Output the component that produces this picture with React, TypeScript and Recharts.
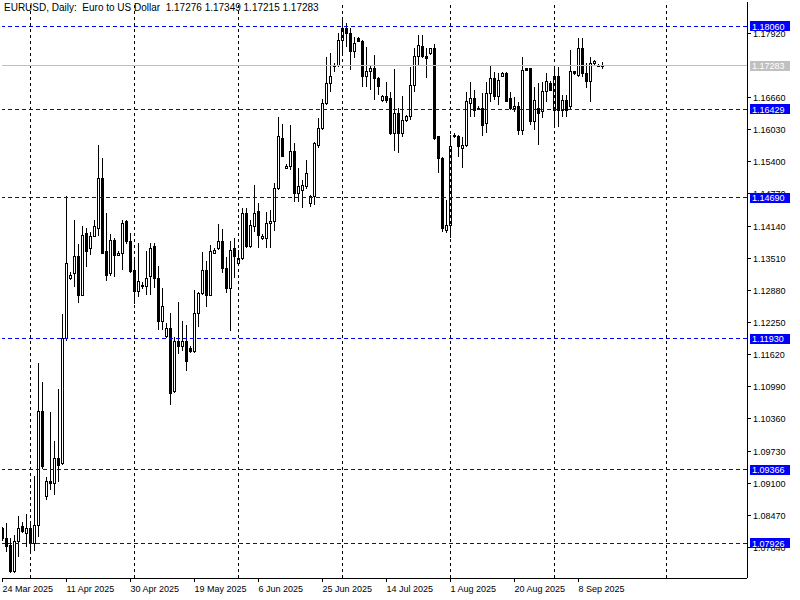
import React from "react";
import { ComposedChart, Bar, XAxis, YAxis, ReferenceLine } from "recharts";

// EURUSD daily bars, 24 Mar 2025 .. 15 Sep 2025 (broker has Sunday bars)
const opens = [
  1.08202, 1.08025, 1.07888, 1.07359, 1.07966, 1.08241, 1.08123, 1.08202, 1.07927, 1.0828,
  1.10495, 1.08848, 1.09142, 1.09103, 1.09574, 1.09495, 1.11926, 1.13121, 1.132, 1.13533,
  1.12788, 1.13984, 1.1369, 1.13944, 1.14101, 1.15081, 1.13631, 1.132, 1.13866, 1.13572,
  1.13611, 1.14219, 1.13827, 1.13278, 1.12847, 1.12945, 1.12964, 1.13141, 1.13729, 1.13102,
  1.12259, 1.11965, 1.12122, 1.10887, 1.11867, 1.11769, 1.11886, 1.11749, 1.11671, 1.12435,
  1.12808, 1.13278, 1.12788, 1.13611, 1.1369, 1.13846, 1.13317, 1.12925, 1.13709, 1.13396,
  1.13494, 1.14395, 1.13729, 1.14121, 1.14415, 1.13905, 1.13905, 1.14199, 1.14219, 1.14866,
  1.15865, 1.15277, 1.15297, 1.15591, 1.14787, 1.14846, 1.14905, 1.14572, 1.14709, 1.15728,
  1.16061, 1.16551, 1.16943, 1.17296, 1.17296, 1.17786, 1.18021, 1.17923, 1.17551, 1.17825,
  1.17766, 1.17061, 1.17159, 1.17218, 1.17022, 1.1661, 1.16688, 1.16649, 1.15963, 1.16336,
  1.15963, 1.16218, 1.16296, 1.16904, 1.17472, 1.17668, 1.17453, 1.17512, 1.1761, 1.15885,
  1.15473, 1.14062, 1.1416, 1.15924, 1.15904, 1.15669, 1.15728, 1.16551, 1.16649, 1.16453,
  1.16453, 1.16159, 1.16747, 1.17041, 1.16688, 1.1708, 1.17139, 1.16649, 1.16434, 1.16492,
  1.16022, 1.17218, 1.17218, 1.16179, 1.16434, 1.16375, 1.16767, 1.16943, 1.16414, 1.17061,
  1.16414, 1.1661, 1.16473, 1.17159, 1.171, 1.1761, 1.17139, 1.16963, 1.17316, 1.17276,
  1.17276,
];
const highs = [
  1.08241, 1.08319, 1.08025, 1.08084, 1.08456, 1.08339, 1.08496, 1.08319, 1.0924, 1.11455,
  1.11083, 1.09221, 1.10495, 1.09926, 1.10946, 1.12416, 1.14728, 1.13239, 1.14258, 1.13788,
  1.1414, 1.14101, 1.14023, 1.14258, 1.15728, 1.15473, 1.14395, 1.13984, 1.13905, 1.1365,
  1.14258, 1.14258, 1.14003, 1.13474, 1.13807, 1.13043, 1.1365, 1.13807, 1.13807, 1.13356,
  1.12925, 1.12239, 1.12435, 1.11965, 1.12651, 1.12278, 1.122, 1.11788, 1.12886, 1.12847,
  1.13631, 1.13454, 1.13768, 1.13709, 1.1418, 1.14082, 1.13533, 1.13846, 1.13905, 1.1367,
  1.14493, 1.14493, 1.14258, 1.14944, 1.14591, 1.13984, 1.14415, 1.14454, 1.14983, 1.16277,
  1.1614, 1.15356, 1.1612, 1.15767, 1.15277, 1.15042, 1.15434, 1.14748, 1.15787, 1.16257,
  1.1663, 1.17453, 1.17531, 1.17335, 1.17923, 1.18178, 1.18119, 1.18021, 1.17845, 1.17845,
  1.17786, 1.17649, 1.17296, 1.17492, 1.17061, 1.16708, 1.16963, 1.16767, 1.17218, 1.16453,
  1.16688, 1.16316, 1.17257, 1.17629, 1.17884, 1.17884, 1.17629, 1.17629, 1.17708, 1.15904,
  1.15493, 1.1465, 1.15924, 1.15963, 1.15924, 1.15885, 1.16767, 1.16963, 1.16806, 1.16492,
  1.16747, 1.16963, 1.17296, 1.17159, 1.17139, 1.17159, 1.17159, 1.16767, 1.16669, 1.16571,
  1.17453, 1.17237, 1.17237, 1.16865, 1.16943, 1.16963, 1.17139, 1.16982, 1.17257, 1.17257,
  1.16708, 1.16708, 1.1759, 1.17178, 1.17825, 1.17825, 1.17335, 1.17453, 1.17394, 1.17316,
  1.17349,
];
const lows = [
  1.07966, 1.07751, 1.07339, 1.07339, 1.07653, 1.08123, 1.07849, 1.0777, 1.0777, 1.08045,
  1.09378, 1.0877, 1.08966, 1.08868, 1.09123, 1.09456, 1.11886, 1.13082, 1.12945, 1.12631,
  1.12768, 1.13337, 1.13572, 1.13925, 1.13944, 1.13592, 1.13062, 1.1316, 1.13141, 1.13552,
  1.13278, 1.13788, 1.13219, 1.12612, 1.12749, 1.12906, 1.12788, 1.12788, 1.12925, 1.12102,
  1.12102, 1.11945, 1.10632, 1.10867, 1.11632, 1.1169, 1.11298, 1.11651, 1.11651, 1.12161,
  1.12788, 1.12553, 1.12768, 1.13592, 1.1367, 1.13219, 1.12827, 1.12082, 1.13121, 1.13376,
  1.13474, 1.13709, 1.13709, 1.14023, 1.13709, 1.13866, 1.13709, 1.13709, 1.14042, 1.14846,
  1.15493, 1.15258, 1.15238, 1.14611, 1.14611, 1.14493, 1.14866, 1.14513, 1.14552, 1.15669,
  1.16022, 1.16512, 1.16767, 1.17159, 1.17257, 1.17531, 1.17649, 1.17198, 1.17433, 1.17747,
  1.16865, 1.16865, 1.16806, 1.1661, 1.16708, 1.16571, 1.16551, 1.15924, 1.1561, 1.15571,
  1.15885, 1.16179, 1.16218, 1.16767, 1.17296, 1.17433, 1.17041, 1.17492, 1.15826, 1.15179,
  1.14023, 1.14003, 1.13905, 1.15865, 1.15493, 1.15277, 1.15689, 1.16277, 1.16277, 1.16414,
  1.15904, 1.15963, 1.16571, 1.1661, 1.16512, 1.17061, 1.16571, 1.16414, 1.16375, 1.15924,
  1.15924, 1.17178, 1.1612, 1.16022, 1.15728, 1.16257, 1.16571, 1.16786, 1.16081, 1.16081,
  1.16277, 1.16277, 1.16434, 1.171, 1.17061, 1.17061, 1.16845, 1.16571, 1.17276, 1.17257,
  1.17215,
];
const closes = [
  1.08006, 1.07868, 1.07359, 1.07966, 1.08202, 1.08143, 1.08202, 1.07927, 1.0828, 1.10514,
  1.09417, 1.09142, 1.09084, 1.09574, 1.09456, 1.11926, 1.13415, 1.1318, 1.13533, 1.12788,
  1.13964, 1.13631, 1.13944, 1.14121, 1.15081, 1.13611, 1.1318, 1.13866, 1.13572, 1.13611,
  1.14199, 1.13827, 1.13239, 1.12847, 1.13043, 1.12984, 1.13102, 1.13709, 1.13121, 1.12259,
  1.12572, 1.12122, 1.10867, 1.11867, 1.11769, 1.11886, 1.11475, 1.11671, 1.12435, 1.12827,
  1.13278, 1.12788, 1.13631, 1.1367, 1.13846, 1.13298, 1.12925, 1.1367, 1.13552, 1.13494,
  1.14395, 1.13729, 1.1416, 1.14395, 1.13964, 1.13944, 1.14199, 1.14238, 1.14866, 1.15885,
  1.15512, 1.15316, 1.15591, 1.14787, 1.14905, 1.14944, 1.1516, 1.14709, 1.15767, 1.16061,
  1.16551, 1.16943, 1.17061, 1.17257, 1.17786, 1.18021, 1.17923, 1.17551, 1.17727, 1.17766,
  1.17061, 1.17178, 1.17218, 1.17022, 1.16865, 1.16669, 1.1661, 1.15963, 1.16336, 1.15963,
  1.16218, 1.16296, 1.16904, 1.17472, 1.17688, 1.17453, 1.17433, 1.1761, 1.15865, 1.15473,
  1.14082, 1.1416, 1.15689, 1.15885, 1.15689, 1.15728, 1.16571, 1.16649, 1.16414, 1.16434,
  1.1612, 1.16747, 1.17041, 1.16688, 1.17002, 1.17139, 1.1659, 1.16434, 1.16492, 1.16022,
  1.17198, 1.17198, 1.16179, 1.1661, 1.16355, 1.16767, 1.16963, 1.16806, 1.17061, 1.16414,
  1.1661, 1.16414, 1.17159, 1.1712, 1.1761, 1.1712, 1.16963, 1.17335, 1.17355, 1.17296,
  1.17283,
];

const dateLabels = ["24 Mar 2025", "11 Apr 2025", "30 Apr 2025", "19 May 2025", "6 Jun 2025",
  "25 Jun 2025", "14 Jul 2025", "1 Aug 2025", "20 Aug 2025", "8 Sep 2025"];
const dateLabelBars = [0, 16, 32, 48, 64, 80, 96, 112, 128, 144];
// first bar of each month (Oct 1 lies in the empty space on the right)
const monthStartBars = [7, 33, 59, 85, 112, 138, 166];

// 1.17290 sits under the last-price tag, so it is left out
const priceTicks = [1.0784, 1.0847, 1.091, 1.0973, 1.1036, 1.1099, 1.1162, 1.1225, 1.1288,
  1.1351, 1.1414, 1.1477, 1.154, 1.1603, 1.1666, 1.1792];
const levels = [1.1806, 1.16429, 1.1469, 1.1193, 1.09366, 1.07926];
const lastPrice = 1.17283;
const tagPrices = [...levels, lastPrice];

const PRICE_DOMAIN = [1.072412, 1.185308];
const PLOT_RIGHT = 747;

const data = opens.map((o, i) => ({
  bar: i,
  o,
  h: highs[i],
  l: lows[i],
  c: closes[i],
  range: [lows[i], highs[i]],
}));

const FONT = "'Liberation Sans', Arial, sans-serif";

const Candle = (props: any) => {
  const { x, y, width, height, payload } = props;
  if (!payload) return null;
  const { o, h, l, c } = payload;
  const top = Math.min(y, y + height);
  const span = Math.abs(height);
  const k = h > l ? span / (h - l) : 0;
  const py = (v: number) => top + (h - v) * k;
  const cx = Math.floor(x + width / 2) + 0.5;
  const bTop = py(Math.max(o, c));
  const bBot = py(Math.min(o, c));
  const up = c >= o;
  return (
    <g shapeRendering="crispEdges">
      <line x1={cx} x2={cx} y1={top} y2={top + span} stroke="#000" />
      <rect x={cx - 1} y={bTop} width={2} height={Math.max(bBot - bTop, 1)}
        fill={up ? "#fff" : "#000"} stroke="#000" />
    </g>
  );
};

const DateTick = (props: any) => {
  const { x, y, payload } = props;
  const idx = dateLabelBars.indexOf(payload.value);
  return (
    <text x={x} y={y + 8} fontSize={9} fontFamily={FONT} fill="#000" textAnchor="start">
      {idx >= 0 ? dateLabels[idx] : ""}
    </text>
  );
};

const PriceTick = (props: any) => {
  const { x, y, payload } = props;
  return (
    <text x={x} y={y + 3.5} fontSize={9} fontFamily={FONT} fill="#000" textAnchor="start">
      {Number(payload.value).toFixed(5)}
    </text>
  );
};

// coloured price tags, drawn by an extra axis so they sit over the tick labels
const TagTick = (props: any) => {
  const { y, payload } = props;
  const v = Number(payload.value);
  const bg = v === lastPrice ? "#c0c0c0" : "#0000ff";
  const left = PLOT_RIGHT + 3;
  return (
    <g shapeRendering="crispEdges">
      <rect x={left} y={y - 5} width={40} height={10} fill={bg} />
      <text x={left + 2} y={y + 3.5} fontSize={9} fontFamily={FONT} fill="#fff">{v.toFixed(5)}</text>
    </g>
  );
};

export default function App() {
  return (
    <div style={{ position: "relative", width: 800, height: 600, background: "#fff" }}>
      <style>{"body{margin:0}"}</style>
      <ComposedChart width={800} height={600} data={data}
        margin={{ top: 2, right: 0, bottom: 0, left: 2 }}>
        <XAxis dataKey="bar" type="number" domain={[-0.125, 186.125]} allowDataOverflow
          ticks={dateLabelBars} interval={0} tick={<DateTick />} tickSize={4}
          height={22} axisLine={{ stroke: "#000", shapeRendering: "crispEdges" }}
          tickLine={{ stroke: "#000", shapeRendering: "crispEdges" }} />
        <YAxis orientation="right" type="number" domain={PRICE_DOMAIN} allowDataOverflow
          ticks={priceTicks} interval={0} tick={<PriceTick />} tickSize={4} width={52}
          axisLine={{ stroke: "#000", shapeRendering: "crispEdges" }}
          tickLine={{ stroke: "#000", shapeRendering: "crispEdges" }} />
        <YAxis yAxisId="frame" orientation="left" width={0} tick={false}
          axisLine={{ stroke: "#000", shapeRendering: "crispEdges" }} />
        {monthStartBars.map((b) => (
          <ReferenceLine key={"m" + b} x={b} stroke="#000" strokeDasharray="3 3"
            shapeRendering="crispEdges" ifOverflow="visible" />
        ))}
        <Bar dataKey="range" barSize={3} shape={<Candle />} isAnimationActive={false} />
        <ReferenceLine y={lastPrice} stroke="#c0c0c0" shapeRendering="crispEdges" />
        {levels.map((v) => (
          <ReferenceLine key={"l" + v} y={v} stroke="#0000ff" strokeDasharray="4 3"
            shapeRendering="crispEdges" />
        ))}
        <YAxis yAxisId="tags" orientation="right" type="number" width={1} domain={PRICE_DOMAIN}
          allowDataOverflow ticks={tagPrices} interval={0} tick={<TagTick />} tickLine={false}
          axisLine={{ stroke: "#fff", strokeOpacity: 0 }} />
      </ComposedChart>
      <div style={{ position: "absolute", left: 4, top: 2, fontFamily: FONT, fontSize: 10,
        whiteSpace: "pre", color: "#000", lineHeight: "12px" }}>
        {"EURUSD, Daily:  Euro to US Dollar  1.17276 1.17349 1.17215 1.17283"}
      </div>
    </div>
  );
}
